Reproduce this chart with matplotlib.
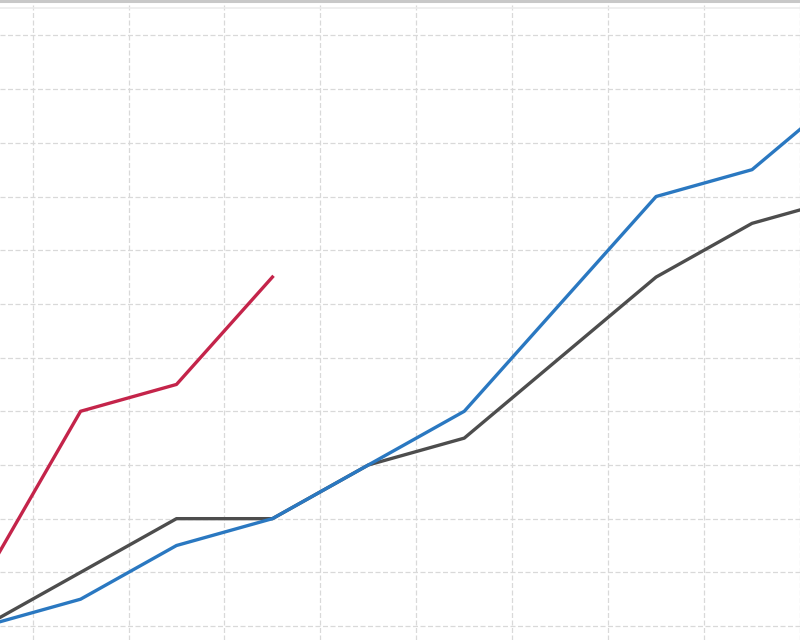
import numpy as np
import matplotlib.pyplot as plt
from matplotlib.lines import Line2D

# valores (unidades: una línea de rejilla = 10)
idx = np.arange(10)
serie_gris = [0, 10, 20, 20, 30, 35, 50, 65, 75, 80]
serie_azul = [0, 5, 15, 20, 30, 40, 60, 80, 85, 100]
serie_roja = [9, 40, 45, 65]

fig = plt.figure(figsize=(8, 6.4), dpi=100)
ax = fig.add_axes([0, 0, 1, 1])

ax.plot(idx, serie_gris, color="#4d4d4d", lw=2.4, solid_joinstyle="round", zorder=3)
ax.plot(idx, serie_azul, color="#2a78c1", lw=2.4, solid_joinstyle="round", zorder=4)
ax.plot(idx[:len(serie_roja)], serie_roja, color="#c4244a", lw=2.4,
        solid_joinstyle="round", zorder=5)

ax.set_xlim(0.16, 8.357)
ax.set_ylim(-2.6, 116.6)
ax.set_xticks(np.arange(0.5, 9, 1))
ax.set_yticks(np.arange(0, 120, 10))
ax.grid(True, color="#d9d9d9", lw=0.9, linestyle=(0, (4, 2)))
ax.tick_params(length=0, labelbottom=False, labelleft=False)
for s in ax.spines.values():
    s.set_visible(False)

# bordes superiores del recorte
fig.add_artist(Line2D([0, 1], [0.998, 0.998], color="#c8c8c8", lw=2.2))
fig.add_artist(Line2D([0, 1], [0.987, 0.987], color="#ececec", lw=1.2))

fig.savefig("out.png", dpi=100)
